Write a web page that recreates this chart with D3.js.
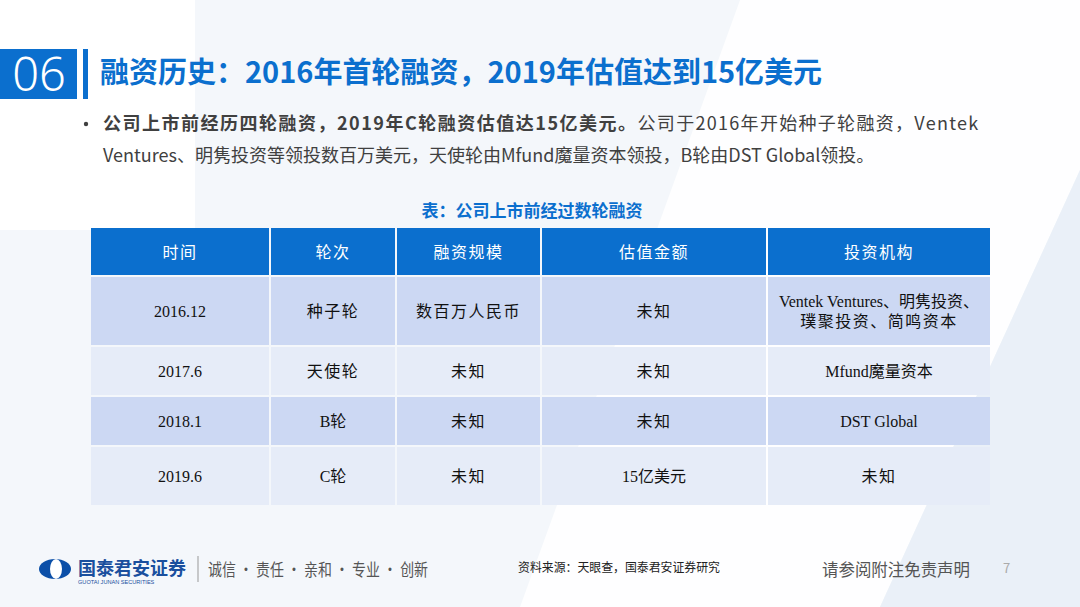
<!DOCTYPE html>
<html>
<head>
<meta charset="utf-8">
<script src="https://cdn.jsdelivr.net/npm/d3@7"></script>
<style>
  body { margin: 0; background: #fff; }
  svg { display: block; }
</style>
</head>
<body>
<div id="chart"></div>
<script>
// table content
const columns = ['时间', '轮次', '融资规模', '估值金额', '投资机构'];
const dates = ['2016.12', '2017.6', '2018.1', '2019.6'];
const rounds = ['种子轮', '天使轮', 'B轮', 'C轮'];
const amounts = ['数百万人民币', '未知', '未知', '未知'];
const valuations = ['未知', '未知', '未知', '15亿美元'];
const investors = [
  ['Ventek Ventures、明隽投资、', '璞聚投资、简鸣资本'],
  ['Mfund魔量资本'],
  ['DST Global'],
  ['未知']
];

const W = 1080, H = 607;
const svg = d3.select('#chart').append('svg')
  .attr('width', W).attr('height', H);

const sans = '"Noto Sans CJK SC", "Noto Sans", sans-serif';
const serif = '"Liberation Serif", "Noto Sans CJK SC", serif';
const blue = '#0b6fce';

// background shapes
svg.append('rect').attr('width', W).attr('height', H).attr('fill', '#f4f7fb');
svg.append('polygon').attr('points', '0,0 195,0 195,230 0,230').attr('fill', '#ffffff');
svg.append('polygon').attr('points', '740,0 1080,0 1080,170 880,607 520,607').attr('fill', '#ffffff').attr('opacity', 0.85);
svg.append('polygon').attr('points', '1080,170 1080,607 880,607').attr('fill', '#eaf0f8');

// section number + title
svg.append('rect').attr('x', 0).attr('y', 49).attr('width', 77).attr('height', 50).attr('fill', blue);
svg.append('text').attr('x', 39).attr('y', 91).attr('text-anchor', 'middle')
  .attr('font-family', '"Noto Sans", sans-serif').attr('font-size', 47).attr('font-weight', 300)
  .attr('fill', '#fff').text('06');
svg.append('rect').attr('x', 83).attr('y', 49).attr('width', 5).attr('height', 50).attr('fill', blue);
svg.append('text').attr('x', 100).attr('y', 83)
  .attr('font-family', sans).attr('font-size', 29).attr('font-weight', 700)
  .attr('fill', blue).text('融资历史：2016年首轮融资，2019年估值达到15亿美元');

// bullet paragraph
svg.append('circle').attr('cx', 86).attr('cy', 124).attr('r', 2.2).attr('fill', '#404040');
const p1 = svg.append('text').attr('x', 103).attr('y', 130)
  .attr('font-family', sans).attr('font-size', 18).attr('fill', '#404040');
p1.append('tspan').attr('font-weight', 700).attr('letter-spacing', 1.5).text('公司上市前经历四轮融资，2019年C轮融资估值达15亿美元。');
p1.append('tspan').attr('letter-spacing', 1.3).text('公司于2016年开始种子轮融资，Ventek');
svg.append('text').attr('x', 103).attr('y', 162)
  .attr('font-family', sans).attr('font-size', 18).attr('fill', '#404040')
  .text('Ventures、明隽投资等领投数百万美元，天使轮由Mfund魔量资本领投，B轮由DST Global领投。');

// caption
svg.append('text').attr('x', 532).attr('y', 217).attr('text-anchor', 'middle')
  .attr('font-family', sans).attr('font-size', 17).attr('font-weight', 700)
  .attr('fill', blue).text('表：公司上市前经过数轮融资');

// table geometry
const colEdges = [90, 270, 396, 541, 767, 991];
const rowHeights = [70, 50, 50, 60];
const headTop = 228, headH = 47, gap = 2;
const rowTops = [];
rowHeights.reduce((y, h) => { rowTops.push(y); return y + h; }, headTop + headH + gap);

const col = d3.scaleOrdinal().domain(columns).range(d3.range(columns.length));
const colX = c => colEdges[col(c)] + gap / 2;
const colW = c => colEdges[col(c) + 1] - colEdges[col(c)] - gap;

const table = svg.append('g');

// header
const head = table.selectAll('g.head').data(columns).enter().append('g');
head.append('rect')
  .attr('x', colX).attr('y', headTop).attr('width', colW).attr('height', headH)
  .attr('fill', blue);
head.append('text')
  .attr('x', c => colX(c) + colW(c) / 2).attr('y', headTop + headH / 2 + 6)
  .attr('text-anchor', 'middle').attr('font-family', serif).attr('font-size', 16)
  .attr('letter-spacing', 1.5).attr('fill', '#fff').text(c => c);

// body rows
const rows = dates.map((d, i) => [[d], [rounds[i]], [amounts[i]], [valuations[i]], investors[i]]);
const rowFill = ['#ccd8f3', '#e6ecf8', '#ccd8f3', '#e6ecf8'];

rows.forEach((cells, i) => {
  const g = table.append('g');
  const y0 = rowTops[i], h = rowHeights[i] - gap;
  cells.forEach((lines, j) => {
    const c = columns[j];
    g.append('rect').attr('x', colX(c)).attr('y', y0).attr('width', colW(c)).attr('height', h)
      .attr('fill', rowFill[i]);
    const lh = 20;
    const t = g.append('text').attr('text-anchor', 'middle')
      .attr('font-family', serif).attr('font-size', 16).attr('fill', '#111');
    lines.forEach((ln, k) => {
      t.append('tspan').attr('x', colX(c) + colW(c) / 2)
        .attr('y', y0 + h / 2 + 6 + (k - (lines.length - 1) / 2) * lh)
        .attr('letter-spacing', /[a-zA-Z0-9]/.test(ln) ? 0 : 1.5)
        .text(ln);
    });
  });
});

// footer
const logo = svg.append('g');
logo.append('ellipse').attr('cx', 55).attr('cy', 569).attr('rx', 16).attr('ry', 10).attr('fill', '#0b4fa8');
logo.append('ellipse').attr('cx', 56).attr('cy', 569).attr('rx', 6).attr('ry', 10).attr('fill', '#fff');
logo.append('text').attr('x', 78).attr('y', 575)
  .attr('font-family', sans).attr('font-size', 18).attr('font-weight', 700)
  .attr('fill', '#1a4f9e').text('国泰君安证券');
logo.append('text').attr('x', 78).attr('y', 584)
  .attr('font-family', '"Liberation Sans", sans-serif').attr('font-size', 5.6)
  .attr('fill', '#1a4f9e').text('GUOTAI JUNAN SECURITIES');
svg.append('line').attr('x1', 198).attr('x2', 198).attr('y1', 556).attr('y2', 582)
  .attr('stroke', '#999').attr('stroke-width', 1);
svg.append('text').attr('x', 208).attr('y', 576)
  .attr('font-family', sans).attr('font-size', 17).attr('fill', '#555')
  .attr('textLength', 220).attr('lengthAdjust', 'spacingAndGlyphs')
  .text('诚信 · 责任 · 亲和 · 专业 · 创新');
svg.append('text').attr('x', 518).attr('y', 572)
  .attr('font-family', sans).attr('font-size', 12.5).attr('fill', '#222')
  .attr('textLength', 202).attr('lengthAdjust', 'spacingAndGlyphs')
  .text('资料来源：天眼查，国泰君安证券研究');
svg.append('text').attr('x', 822).attr('y', 576)
  .attr('font-family', sans).attr('font-size', 17).attr('fill', '#555')
  .attr('textLength', 148).attr('lengthAdjust', 'spacingAndGlyphs')
  .text('请参阅附注免责声明');
svg.append('text').attr('x', 1003).attr('y', 573)
  .attr('font-family', sans).attr('font-size', 13).attr('fill', '#aaa').text('7');
</script>
</body>
</html>
